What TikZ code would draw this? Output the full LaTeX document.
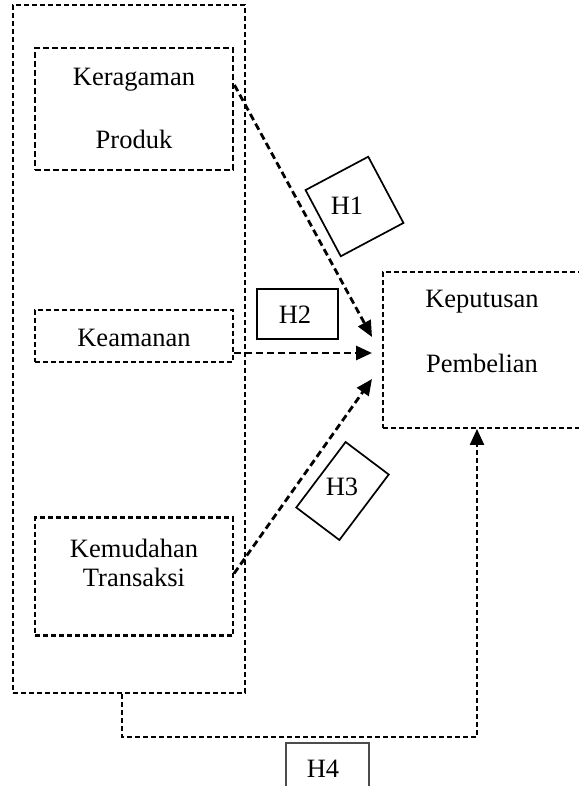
\documentclass[tikz,border=0pt]{standalone}
\usepackage{fontspec}
\setmainfont{Liberation Serif}
\usetikzlibrary{arrows.meta,calc}
\begin{document}
\begin{tikzpicture}[x=1pt,y=-1pt,
  every node/.style={font=\fontsize{26.5}{31}\selectfont, inner sep=0pt},
  varbox/.style={draw, dash pattern=on 5pt off 3pt, line width=2.1pt, minimum width=198pt},
  outerbox/.style={draw, dash pattern=on 5pt off 3pt, line width=1.7pt, minimum width=232pt, minimum height=688pt},
  hbox/.style={draw, solid, line width=1.7pt},
  link/.style={line width=2.8pt, dash pattern=on 7pt off 4pt, -{Triangle[length=16pt,width=14pt]}}
]
\useasboundingbox (0,0) rectangle (578,786);

% left group
\node[outerbox] (outer) at (129,349) {};
\node[varbox, line width=2.9pt, dash pattern=on 6pt off 3pt, minimum height=122pt] (b1) at (134,109) {};
\node (t1a) at (134,80) {Keragaman};
\node (t1b) at (134,139) {Produk};
\node[varbox, minimum height=52pt] (b2) at (134,336) {};
\node (t2) at (134,338) {Keamanan};
\node[varbox, minimum height=118pt] (b3) at (134,576.5) {};
\node (t3a) at (134,548) {Kemudahan};
\node (t3b) at (134,577) {Transaksi};

% right box
\node[varbox, line width=1.9pt, minimum height=156pt] (rb) at (482,350) {};
\node (r1) at (482,302) {Keputusan};
\node (r2) at (482,363) {Pembelian};

% arrow ends
\coordinate (e1) at (372,337);
\coordinate (e2) at (372,353);
\coordinate (e3) at (372,379);
\coordinate (h4a) at ($(outer.south west)+(110,0)$);
\coordinate (h4b) at (477,737);

\draw[link] ([yshift=24pt]b1.east) -- (e1);
\draw[link] ([yshift=-17pt]b2.east) -- (e2);
\draw[link] ([yshift=3pt]b3.east) -- (e3);
\draw[link, line width=2.3pt, dash pattern=on 5pt off 3pt] (h4a) |- (h4b) -- ([xshift=-5pt]rb.south);

% hypothesis labels
\node[hbox, rotate=28, minimum width=71pt, minimum height=75pt] (h1) at (354.5,206.5) {};
\node (h1t) at (347,206) {H1};
\node[hbox, minimum width=81pt, minimum height=50pt] (h2) at (297.5,314) {};
\node (h2t) at (295,315) {H2};
\node[hbox, rotate=-37, minimum width=54pt, minimum height=82pt] (h3) at (342.5,491) {};
\node (h3t) at (342,487) {H3};
\node[hbox, draw=black!70, line width=1.3pt, minimum width=83pt, minimum height=70pt] (h4) at (327.5,778) {};
\node (h4t) at (323,769) {H4};
\end{tikzpicture}
\end{document}
